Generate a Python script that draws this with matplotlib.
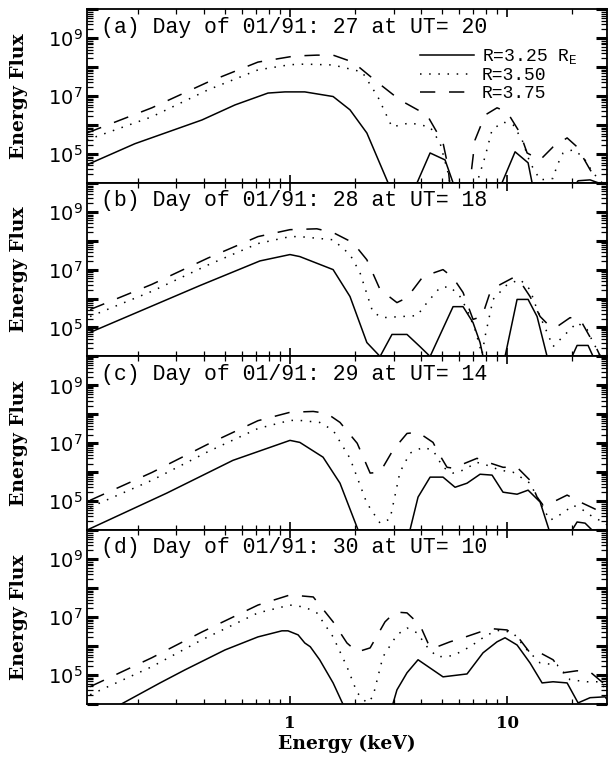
"""
Energy flux spectra at three L-shells, four days (01/91), stacked panels.
"""

import numpy as np
import matplotlib
matplotlib.use("Agg")
import matplotlib.pyplot as plt
from matplotlib.ticker import FixedLocator, LogLocator, FuncFormatter, NullFormatter

# ── Data (energy in keV, flux as log10) ──────────────────────────
TITLES = [
    "(a) Day of 01/91: 27 at UT= 20",
    "(b) Day of 01/91: 28 at UT= 18",
    "(c) Day of 01/91: 29 at UT= 14",
    "(d) Day of 01/91: 30 at UT= 10",
]
LABELS = ["R=3.25 R$\\mathregular{_E}$", "R=3.50", "R=3.75"]

# panel (a)
a_e_325 = [0.116, 0.193, 0.393, 0.558, 0.792, 0.948, 1.17, 1.58, 1.89, 2.26, 2.83, 3.2,
           3.85, 4.42, 5.18, 5.64, 7.0, 9.48, 10.89, 12.5, 13.04, 17.0, 21.24, 24.13,
           26.27, 29.0]
a_f_325 = [4.62, 5.35, 6.17, 6.69, 7.10, 7.14, 7.14, 6.98, 6.52, 5.72, 4.0, 3.0,
           4.0, 5.03, 4.79, 4.0, 3.0, 4.0, 5.07, 4.69, 4.0, 3.0, 4.07, 4.1,
           4.0, 3.0]
a_e_350 = [0.116, 0.231, 0.419, 0.712, 1.0, 1.17, 1.58, 2.15, 2.54, 2.95, 3.57, 4.42,
           4.91, 5.35, 5.76, 6.75, 7.27, 7.92, 8.53, 9.58, 10.66, 11.73, 12.76, 14.2,
           16.29, 17.0, 18.12, 20.14, 22.40, 24.91, 27.41, 29.5]
a_f_350 = [5.48, 6.28, 7.21, 7.9, 8.08, 8.1, 8.07, 7.83, 6.97, 5.93, 6.07, 5.93,
           5.38, 4.34, 3.0, 3.0, 4.0, 4.9, 5.83, 6.1, 6.0, 5.48, 4.69, 4.1,
           4.15, 4.6, 5.03, 5.14, 4.9, 4.34, 4.0, 3.5]
a_e_375 = [0.116, 0.231, 0.419, 0.712, 1.05, 1.33, 1.58, 1.95, 2.52, 3.21, 4.28, 5.07,
           5.35, 5.6, 6.75, 7.12, 7.92, 8.99, 10.0, 11.48, 12.37, 14.2, 16.29, 18.91,
           21.02, 24.13, 26.27, 28.3]
a_f_375 = [5.72, 6.59, 7.48, 8.17, 8.38, 8.41, 8.41, 8.17, 7.48, 6.86, 6.34, 5.38,
           4.55, 3.0, 4.0, 5.48, 6.34, 6.59, 6.45, 5.72, 5.03, 4.79, 5.24, 5.55,
           5.24, 4.45, 4.03, 3.6]

# panel (b)
b_e_325 = [0.120, 0.385, 0.727, 1.0, 1.11, 1.58, 1.89, 2.26, 2.60, 2.95, 3.46, 3.97,
           4.42, 5.64, 6.27, 6.97, 7.51, 7.75, 8.6, 9.79, 11.12, 12.50, 13.75, 15.29,
           17.5, 19.93, 21.02, 23.62, 24.91, 27.0]
b_f_325 = [4.83, 6.45, 7.3, 7.52, 7.45, 7.0, 6.07, 4.48, 4.0, 4.76, 4.76, 4.34,
           4.0, 5.72, 5.72, 5.17, 4.48, 4.0, 3.0, 4.0, 5.97, 5.97, 5.38, 4.0,
           3.0, 4.0, 4.38, 4.38, 4.0, 3.0]
b_e_350 = [0.120, 0.231, 0.419, 0.712, 1.0, 1.11, 1.58, 1.89, 2.10, 2.41, 2.68, 3.85,
           4.28, 4.91, 5.46, 6.07, 6.54, 7.12, 7.67, 7.92, 8.62, 10.0, 11.48, 12.76,
           13.75, 15.29, 16.29, 18.12, 21.02, 23.37, 24.91, 25.99, 27.7]
b_f_350 = [5.38, 6.25, 7.16, 7.9, 8.14, 8.14, 8.03, 7.52, 6.9, 5.52, 5.34, 5.41,
           5.86, 6.38, 6.41, 6.07, 5.62, 4.93, 4.07, 4.69, 5.97, 6.48, 6.66, 6.31,
           5.62, 4.83, 4.34, 4.69, 5.17, 4.93, 4.48, 4.24, 3.8]
b_e_375 = [0.120, 0.231, 0.419, 0.712, 1.0, 1.33, 1.58, 1.95, 2.26, 2.60, 3.11, 3.46,
           4.10, 5.07, 5.64, 6.27, 6.97, 7.67, 8.35, 9.28, 10.66, 11.48, 12.76, 14.2,
           15.79, 17.0, 19.51, 21.70, 24.91, 25.99, 27.7]
b_f_375 = [5.62, 6.49, 7.40, 8.14, 8.38, 8.41, 8.28, 7.93, 7.34, 6.31, 5.86, 6.03,
           6.76, 7.0, 6.72, 6.21, 5.28, 5.38, 6.21, 6.48, 6.72, 6.59, 6.07, 5.38,
           5.03, 5.03, 5.34, 5.28, 4.48, 4.24, 3.8]

# panel (c)
c_e_325 = [0.116, 0.271, 0.546, 1.0, 1.11, 1.42, 1.70, 2.06, 2.9, 3.57, 3.89, 4.42,
           5.07, 5.76, 6.54, 7.51, 8.53, 9.58, 11.12, 12.50, 14.2, 15.62, 17.5, 19.93,
           21.02, 22.88, 24.65, 27.0]
c_f_325 = [4.0, 5.28, 6.41, 7.1, 7.03, 6.52, 5.62, 4.0, 3.0, 4.0, 5.14, 5.83,
           5.83, 5.48, 5.62, 5.93, 5.9, 5.31, 5.24, 5.38, 4.97, 4.0, 3.0, 4.0,
           4.28, 4.24, 4.0, 3.0]
c_e_350 = [0.120, 0.231, 0.419, 0.712, 1.0, 1.11, 1.37, 1.58, 1.89, 2.26, 2.60, 2.89,
           3.21, 3.57, 4.10, 4.56, 5.07, 5.64, 6.27, 7.27, 8.09, 9.28, 10.66, 12.76,
           14.2, 15.79, 18.12, 20.14, 22.40, 24.91, 27.7, 29.84]
c_f_350 = [4.79, 5.72, 6.71, 7.51, 7.79, 7.79, 7.72, 7.45, 6.48, 4.93, 4.24, 4.38,
           6.0, 6.66, 6.86, 6.76, 6.17, 5.97, 6.07, 6.34, 6.24, 6.07, 6.0, 5.62,
           4.93, 4.34, 4.59, 4.86, 4.69, 4.45, 4.28, 4.1]
c_e_375 = [0.120, 0.231, 0.419, 0.712, 1.0, 1.28, 1.48, 1.70, 2.04, 2.34, 2.60, 2.98,
           3.46, 3.89, 4.56, 4.81, 5.29, 5.64, 6.07, 7.27, 8.17, 9.58, 11.12, 12.76,
           13.75, 14.66, 16.29, 18.91, 21.70, 24.91, 27.7, 29.84]
c_f_375 = [5.03, 5.99, 6.97, 7.78, 8.07, 8.1, 8.03, 7.72, 7.0, 5.97, 6.0, 6.76,
           7.34, 7.38, 7.03, 6.69, 6.17, 6.14, 6.24, 6.48, 6.34, 6.17, 6.17, 5.72,
           5.14, 4.86, 4.97, 5.21, 4.97, 4.76, 4.59, 4.45]

# panel (d)
d_e_325 = [0.116, 0.168, 0.252, 0.328, 0.502, 0.712, 0.918, 0.979, 1.09, 1.17, 1.24, 1.37,
           1.58, 1.75, 2.4, 2.98, 3.11, 3.46, 3.89, 5.07, 6.54, 7.75, 8.99, 9.79,
           11.12, 12.76, 14.5, 16.29, 18.91, 21.24, 24.13, 28.29, 29.84]
d_f_325 = [3.4, 4.0, 4.72, 5.17, 5.86, 6.31, 6.52, 6.52, 6.38, 6.1, 5.97, 5.52,
           4.72, 4.0, 3.0, 4.0, 4.48, 5.07, 5.52, 4.93, 5.03, 5.76, 6.14, 6.28,
           6.03, 5.41, 4.72, 4.76, 4.72, 4.03, 4.21, 4.24, 4.0]
d_e_350 = [0.120, 0.231, 0.393, 0.712, 1.0, 1.17, 1.33, 1.58, 1.83, 2.04, 2.26, 2.41,
           2.68, 3.11, 3.46, 3.85, 4.28, 4.76, 5.64, 6.75, 8.09, 9.28, 10.66, 12.37,
           14.2, 17.0, 19.51, 23.37, 26.83, 29.2]
d_f_350 = [4.31, 5.28, 6.21, 7.14, 7.41, 7.34, 7.14, 6.31, 5.28, 4.38, 4.03, 4.24,
           5.62, 6.38, 6.62, 6.45, 5.97, 5.62, 5.66, 5.97, 6.38, 6.55, 6.45, 5.86,
           5.41, 5.34, 4.83, 4.76, 4.76, 4.4]
d_e_375 = [0.120, 0.231, 0.393, 0.712, 1.0, 1.28, 1.58, 1.83, 2.04, 2.34, 2.74, 3.05,
           3.46, 3.97, 4.32, 4.51, 5.46, 6.27, 7.51, 8.62, 10.0, 11.48, 12.76, 14.2,
           16.29, 18.12, 21.02, 24.13, 27.7, 29.2]
d_f_375 = [4.59, 5.59, 6.48, 7.41, 7.76, 7.69, 6.83, 6.1, 5.79, 5.93, 6.83, 7.17,
           7.14, 6.72, 6.1, 5.9, 6.14, 6.28, 6.48, 6.59, 6.55, 6.21, 5.76, 5.76,
           5.52, 5.07, 5.14, 5.1, 4.72, 4.4]

PANELS = [
    [(a_e_325, a_f_325), (a_e_350, a_f_350), (a_e_375, a_f_375)],
    [(b_e_325, b_f_325), (b_e_350, b_f_350), (b_e_375, b_f_375)],
    [(c_e_325, c_f_325), (c_e_350, c_f_350), (c_e_375, c_f_375)],
    [(d_e_325, d_f_325), (d_e_350, d_f_350), (d_e_375, d_f_375)],
]

LINESTYLES = ["-", (0, (1.0, 5.0)), (0, (10, 9))]

MONO = ["Liberation Mono", "DejaVu Sans Mono"]
SERIF_BOLD = dict(family="DejaVu Serif", weight="bold")

# ── Plot ─────────────────────────────────────────────────────────
fig, axes = plt.subplots(4, 1, figsize=(6.12, 7.6), dpi=100, sharex=True)
fig.subplots_adjust(left=0.142, right=0.992, top=0.988, bottom=0.074, hspace=0)


def yfmt(v, pos):
    e = int(round(np.log10(v)))
    return f"$10^{{{e}}}$" if e in (5, 7, 9) else ""


for i, ax in enumerate(axes):
    for (e, f), ls, lab in zip(PANELS[i], LINESTYLES, LABELS):
        ax.plot(e, 10.0 ** np.array(f), color="black", lw=1.1, ls=ls, label=lab)

    ax.set_xscale("log")
    ax.set_yscale("log")
    ax.set_xlim(0.116, 28.9)
    ax.set_ylim(1e4, 1e10)

    ax.yaxis.set_major_locator(LogLocator(base=10, numticks=20))
    ax.yaxis.set_minor_locator(LogLocator(base=10, subs=np.arange(2, 10), numticks=20))
    ax.yaxis.set_major_formatter(FuncFormatter(yfmt))
    ax.yaxis.set_minor_formatter(NullFormatter())

    ax.xaxis.set_major_locator(FixedLocator([1, 10]))
    ax.xaxis.set_minor_locator(FixedLocator(
        [0.2, 0.3, 0.4, 0.5, 0.6, 0.7, 0.8, 0.9, 2, 3, 4, 5, 6, 7, 8, 9, 20]))
    ax.xaxis.set_minor_formatter(NullFormatter())

    ax.tick_params(axis="y", which="major", direction="in", length=8, width=2.2,
                   left=True, right=True, labelsize=14, pad=3)
    ax.tick_params(axis="y", which="minor", direction="in", length=4, width=0.9,
                   left=True, right=True)
    ax.tick_params(axis="x", which="major", direction="in", length=6, width=1.2,
                   top=True, bottom=True, pad=8)
    ax.tick_params(axis="x", which="minor", direction="in", length=3.5, width=0.9,
                   top=True, bottom=True)
    for sp in ax.spines.values():
        sp.set_linewidth(1.3)

    ax.text(0.028, 0.897, TITLES[i], transform=ax.transAxes, ha="left",
            va="center", fontsize=15.5, family=MONO)

    ax.set_ylabel("Energy Flux", fontsize=13.5, **SERIF_BOLD)
    ax.yaxis.set_label_coords(-0.113, 0.5)

# legend in panel (a)
axes[0].legend(loc="upper left", bbox_to_anchor=(0.64, 0.78), frameon=False,
               prop=dict(family=MONO, size=13), handlelength=3.0,
               handletextpad=0.45, labelspacing=0.05, borderpad=0,
               borderaxespad=0)

# x tick labels and x label on bottom panel
bottom = axes[-1]
bottom.set_xticks([1, 10])
bottom.set_xticklabels(["1", "10"], fontsize=12, **SERIF_BOLD)
bottom.set_xlabel("Energy (keV)", fontsize=13.5, labelpad=2, **SERIF_BOLD)

fig.savefig("out.png", dpi=100, facecolor="white")
plt.close(fig)
